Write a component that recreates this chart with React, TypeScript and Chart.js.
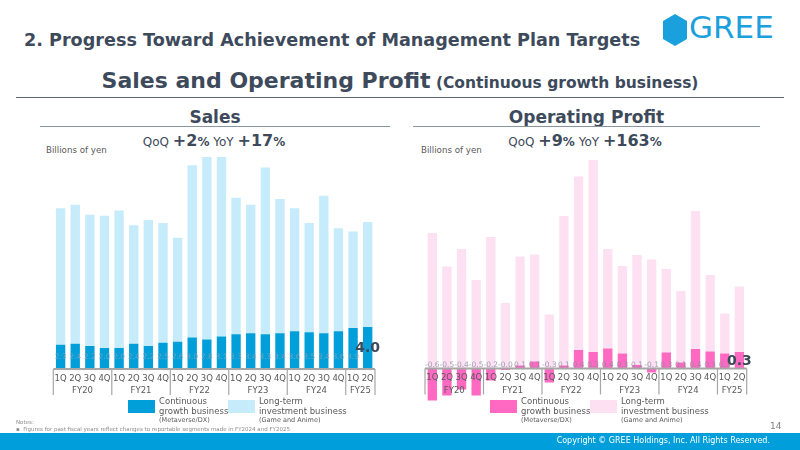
import React, { useEffect, useRef } from 'react';
import { Chart, registerables } from 'chart.js';

Chart.register(...registerables);

// ---------- DATA ----------
const quarters = ['1Q', '2Q', '3Q', '4Q', '1Q', '2Q', '3Q', '4Q', '1Q', '2Q', '3Q', '4Q', '1Q', '2Q', '3Q', '4Q', '1Q', '2Q', '3Q', '4Q', '1Q', '2Q'];
const fiscalYears = ['FY20', 'FY21', 'FY22', 'FY23', 'FY24', 'FY25'];
const quartersPerYear = [4, 4, 4, 4, 4, 2];

const salesContinuous = [2.3, 2.4, 2.2, 2.0, 2.0, 2.4, 2.2, 2.5, 2.6, 3.0, 2.8, 3.1, 3.3, 3.4, 3.3, 3.4, 3.6, 3.5, 3.4, 3.6, 3.9, 4.0];
const salesLongTerm = [13.0, 13.25, 12.5, 12.6, 13.1, 11.3, 12.0, 11.4, 9.9, 16.4, 17.4, 17.1, 13.0, 12.25, 15.9, 12.8, 11.7, 10.4, 13.1, 9.8, 9.2, 10.0];

const profitContinuous = [-0.64, -0.54, -0.42, -0.54, -0.24, -0.03, 0.06, 0.14, -0.28, 0.06, 0.37, 0.33, 0.4, 0.3, 0.07, -0.08, 0.32, 0.12, 0.39, 0.34, 0.3, 0.33];
const profitLongTerm = [2.71, 2.04, 2.39, 1.77, 2.63, 1.31, 2.18, 2.14, 1.08, 2.99, 3.47, 3.84, 1.99, 1.75, 2.2, 2.18, 1.67, 1.43, 2.76, 1.53, 0.8, 1.31];

const salesQoQ = '+2';
const salesYoY = '+17';
const profitQoQ = '+9';
const profitYoY = '+163';

const legendContinuous = ['Continuous', 'growth business', '(Metaverse/DX)'];
const legendLongTerm = ['Long-term', 'investment business', '(Game and Anime)'];

// ---------- STYLE ----------
const TEXT_DARK = '#3d4a5b';
const FONT = '"DejaVu Sans", Verdana, sans-serif';

const quarterAxisPlugin = {
  id: 'quarterAxis',
  afterDatasetsDraw(chart: any, _args: any, opts: any) {
    const { ctx } = chart;
    const xs = chart.scales.x;
    const ys = chart.scales.y;
    const y0 = ys.getPixelForValue(0);
    const n = quarters.length;
    const step = xs.getPixelForValue(1) - xs.getPixelForValue(0);
    const left = xs.getPixelForValue(0) - step / 2;
    const right = xs.getPixelForValue(n - 1) + step / 2;
    ctx.save();

    // value labels
    const vals: number[] = chart.data.datasets[0].data;
    ctx.textAlign = 'center';
    ctx.textBaseline = 'middle';
    vals.forEach((v, i) => {
      if (i === n - 1) return;
      ctx.font = `7.5px ${FONT}`;
      ctx.fillStyle = opts.smallColor;
      ctx.fillText(v.toFixed(1), xs.getPixelForValue(i), y0 - opts.smallOffset);
    });
    ctx.font = `bold 14px ${FONT}`;
    ctx.fillStyle = TEXT_DARK;
    ctx.fillText(vals[n - 1].toFixed(1), xs.getPixelForValue(n - 1), y0 - opts.bigOffset);

    // axis line
    ctx.strokeStyle = '#a6a6a6';
    ctx.lineWidth = 2;
    ctx.beginPath();
    ctx.moveTo(left, y0);
    ctx.lineTo(right, y0);
    ctx.stroke();

    // quarter labels
    ctx.fillStyle = '#595959';
    ctx.font = `8.5px ${FONT}`;
    quarters.forEach((q, i) => {
      ctx.fillText(q, xs.getPixelForValue(i), y0 + 9.5);
    });

    // group separators & FY labels
    ctx.lineWidth = 1.2;
    let start = 0;
    const sep = (x: number) => {
      ctx.beginPath();
      ctx.moveTo(x, y0);
      ctx.lineTo(x, y0 + 26);
      ctx.stroke();
    };
    sep(left);
    quartersPerYear.forEach((cnt, g) => {
      const gl = xs.getPixelForValue(start) - step / 2;
      const gr = xs.getPixelForValue(start + cnt - 1) + step / 2;
      sep(gr);
      ctx.fillText(fiscalYears[g], (gl + gr) / 2, y0 + 22);
      start += cnt;
    });
    ctx.restore();
  },
};

function BarChart(props: {
  cont: number[];
  lt: number[];
  dark: string;
  light: string;
  min: number;
  max: number;
  padding: any;
  smallOffset: number;
  bigOffset: number;
  smallColor: string;
}) {
  const ref = useRef<HTMLCanvasElement>(null);
  useEffect(() => {
    if (!ref.current) return;
    const chart = new Chart(ref.current, {
      type: 'bar',
      data: {
        labels: quarters,
        datasets: [
          { label: 'Continuous growth business', data: props.cont, backgroundColor: props.dark, barPercentage: 0.64, categoryPercentage: 1 },
          { label: 'Long-term investment business', data: props.lt, backgroundColor: props.light, barPercentage: 0.64, categoryPercentage: 1 },
        ],
      },
      options: {
        animation: false,
        responsive: false,
        maintainAspectRatio: false,
        layout: { padding: props.padding },
        plugins: {
          legend: { display: false },
          tooltip: { enabled: false },
          quarterAxis: { smallOffset: props.smallOffset, bigOffset: props.bigOffset, smallColor: props.smallColor },
        } as any,
        scales: {
          x: { stacked: true, display: false },
          y: { stacked: true, display: false, min: props.min, max: props.max },
        },
      },
      plugins: [quarterAxisPlugin],
    });
    return () => chart.destroy();
  }, []);
  return <canvas ref={ref} width={350} height={280} style={{ width: 350, height: 280, display: 'block' }} />;
}

function Legend(props: { x: number; dark: string; light: string }) {
  const item = (left: number, color: string, lines: string[]) => (
    <div style={{ position: 'absolute', left, top: 397 }}>
      <div style={{ position: 'absolute', left: 0, top: 3, width: 27, height: 13, background: color }} />
      <div style={{ position: 'absolute', left: 31, top: 0, whiteSpace: 'nowrap', color: '#595959', fontFamily: FONT }}>
        <div style={{ fontSize: 8.5, lineHeight: '9.5px' }}>{lines[0]}</div>
        <div style={{ fontSize: 8.5, lineHeight: '9.5px' }}>{lines[1]}</div>
        <div style={{ fontSize: 6.5, lineHeight: '9px' }}>{lines[2]}</div>
      </div>
    </div>
  );
  return (
    <>
      {item(props.x, props.dark, legendContinuous)}
      {item(props.x + 100, props.light, legendLongTerm)}
    </>
  );
}

function Headline(props: { cx: number; qoq: string; yoy: string }) {
  const reg = { fontSize: 12, fontWeight: 'normal' as const };
  const big = { fontSize: 16, fontWeight: 'bold' as const };
  const pct = { fontSize: 12, fontWeight: 'bold' as const };
  return (
    <div style={{ position: 'absolute', left: props.cx - 150, width: 300, top: 131, textAlign: 'center', color: TEXT_DARK, fontFamily: FONT, whiteSpace: 'nowrap', lineHeight: '20px' }}>
      <span style={reg}>QoQ </span>
      <span style={big}>{props.qoq}</span>
      <span style={pct}>%</span>
      <span style={reg}> YoY </span>
      <span style={big}>{props.yoy}</span>
      <span style={pct}>%</span>
    </div>
  );
}

export default function App() {
  return (
    <div style={{ position: 'absolute', left: 0, top: 0, width: 800, height: 450, background: '#fff', overflow: 'hidden', fontFamily: FONT }}>
      {/* Title */}
      <div style={{ position: 'absolute', left: 24, top: 29, fontSize: 17.6, fontWeight: 'bold', color: TEXT_DARK, whiteSpace: 'nowrap', lineHeight: '22px' }}>
        2. Progress Toward Achievement of Management Plan Targets
      </div>
      {/* Logo */}
      <svg style={{ position: 'absolute', left: 663, top: 14 }} width={24} height={32} viewBox="0 0 24 32">
        <polygon points="12,0 24,7 24,25 12,32 0,25 0,7" fill="#1aa0dc" />
      </svg>
      <div style={{ position: 'absolute', left: 689, top: 9, fontSize: 31, color: '#1aa0dc', lineHeight: '36px', whiteSpace: 'nowrap' }}>GREE</div>

      {/* Subtitle */}
      <div style={{ position: 'absolute', left: 0, width: 800, top: 68, textAlign: 'center', color: TEXT_DARK, whiteSpace: 'nowrap', lineHeight: '26px' }}>
        <span style={{ fontSize: 22, fontWeight: 'bold' }}>Sales and Operating Profit</span>
        <span style={{ fontSize: 15.5, fontWeight: 'bold' }}> (Continuous growth business)</span>
      </div>
      <div style={{ position: 'absolute', left: 16, top: 96.5, width: 768, height: 1.5, background: '#5a6878' }} />

      {/* Section headers */}
      <div style={{ position: 'absolute', left: 40, width: 350, top: 106, textAlign: 'center', fontSize: 17, fontWeight: 'bold', color: TEXT_DARK, lineHeight: '22px' }}>Sales</div>
      <div style={{ position: 'absolute', left: 40, top: 125.5, width: 350, height: 1.2, background: '#8894a2' }} />
      <div style={{ position: 'absolute', left: 413, width: 347, top: 106, textAlign: 'center', fontSize: 17, fontWeight: 'bold', color: TEXT_DARK, lineHeight: '22px' }}>Operating Profit</div>
      <div style={{ position: 'absolute', left: 413, top: 125.5, width: 347, height: 1.2, background: '#8894a2' }} />

      <Headline cx={214} qoq={salesQoQ} yoy={salesYoY} />
      <Headline cx={585} qoq={profitQoQ} yoy={profitYoY} />

      <div style={{ position: 'absolute', left: 46, top: 145, fontSize: 8.7, color: '#595959', whiteSpace: 'nowrap', lineHeight: '10px' }}>Billions of yen</div>
      <div style={{ position: 'absolute', left: 421, top: 145, fontSize: 8.7, color: '#595959', whiteSpace: 'nowrap', lineHeight: '10px' }}>Billions of yen</div>

      {/* Charts */}
      <div style={{ position: 'absolute', left: 40, top: 140 }}>
        <BarChart cont={salesContinuous} lt={salesLongTerm} dark="#009fd9" light="#c6ebfa" min={0} max={21}
          padding={{ left: 13.3, right: 15, top: 8.5, bottom: 51 }} smallOffset={12} bigOffset={21}
          smallColor="rgba(150,165,180,0.75)" />
      </div>
      <div style={{ position: 'absolute', left: 415, top: 140 }}>
        <BarChart cont={profitContinuous} lt={profitLongTerm} dark="#ff69c2" light="#fde1f2" min={-0.7} max={4.4}
          padding={{ left: 10, right: 18.3, top: 8.5, bottom: 16.5 }} smallOffset={3.5} bigOffset={7.5}
          smallColor="rgba(130,140,155,0.8)" />
      </div>

      <Legend x={128} dark="#009fd9" light="#c6ebfa" />
      <Legend x={490} dark="#ff69c2" light="#fde1f2" />

      {/* Notes */}
      <div style={{ position: 'absolute', left: 16, top: 419, fontSize: 5.5, color: '#8c8c8c', lineHeight: '6.5px', whiteSpace: 'nowrap' }}>
        <div>Notes:</div>
        <div>▪&nbsp; Figures for past fiscal years reflect changes to reportable segments made in FY2024 and FY2025</div>
      </div>
      <div style={{ position: 'absolute', left: 770, top: 420, fontSize: 9, color: '#7f7f7f', lineHeight: '12px' }}>14</div>

      {/* Footer */}
      <div style={{ position: 'absolute', left: 0, top: 432.5, width: 800, height: 18, background: '#009fdb' }} />
      <div style={{ position: 'absolute', right: 30, top: 435, fontSize: 8, color: '#fff', lineHeight: '12px', whiteSpace: 'nowrap' }}>
        Copyright © GREE Holdings, Inc. All Rights Reserved.
      </div>
    </div>
  );
}
